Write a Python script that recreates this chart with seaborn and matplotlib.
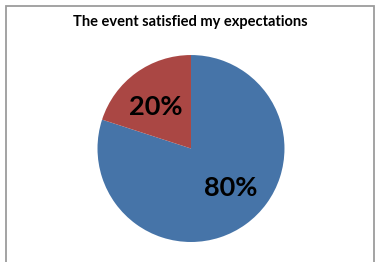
import matplotlib
matplotlib.use("Agg")
import matplotlib.pyplot as plt
import seaborn as sns
import numpy as np
from matplotlib.patches import Rectangle

sns.set_theme(style="white")
plt.rcParams['font.family'] = ['Lato', 'DejaVu Sans']

title = "The event satisfied my expectations"
categories = ["Agree", "Disagree"]
values = [80, 20]
colors = ["#4674A8", "#AA4744"]

fig = plt.figure(figsize=(3.8, 2.62), dpi=100)
fig.patch.set_facecolor("white")

# outer chart border
fig.patches.append(Rectangle((5.5 / 380, -0.05), (374 - 5.5) / 380, 1 - 5.5 / 262 + 0.05,
                             transform=fig.transFigure, fill=False,
                             edgecolor="#9C9C9C", linewidth=1.3))

ax = fig.add_axes([0.2566, 0.0763, 0.492, 0.7137])
wedges, texts, autotexts = ax.pie(values, colors=colors, startangle=90, counterclock=False,
                                  autopct=lambda p: f"{p:.0f}%", pctdistance=0.6,
                                  wedgeprops=dict(linewidth=0),
                                  textprops=dict(fontsize=19.5, fontweight="bold", color="black"))
# Excel best-fit placement shift for the slice labels
autotexts[0].set_position((0.6 * np.cos(np.deg2rad(-45)), 0.6 * np.sin(np.deg2rad(-45))))
autotexts[1].set_position((0.6 * np.cos(np.deg2rad(129)), 0.6 * np.sin(np.deg2rad(129)) - 0.02))
ax.set_xlim(-1, 1)
ax.set_ylim(-1, 1)
ax.axis("off")

fig.text(0.5, 1 - 22 / 262, title, ha="center", va="center", fontsize=10.5, fontweight="bold", color="black")

fig.savefig("out.png", dpi=100)
